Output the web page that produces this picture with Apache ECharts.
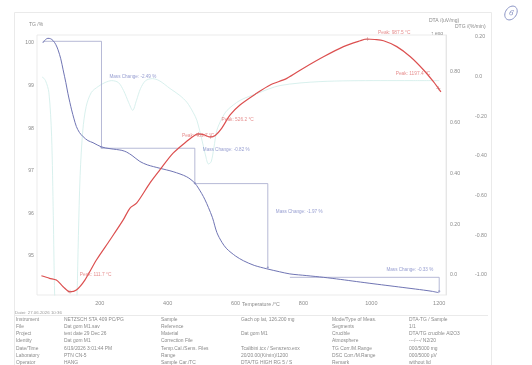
<!DOCTYPE html>
<html>
<head>
<meta charset="utf-8">
<script src="https://cdn.jsdelivr.net/npm/echarts@6/dist/echarts.min.js"></script>
<style>
  html, body { margin: 0; padding: 0; background: #ffffff; }
  #chart { width: 532px; height: 365px; }
</style>
</head>
<body>
<div id="chart"></div>
<script>
// ---- thermal analysis data (STA: TG / DTA / DTG) ----
const tgTemp = [32, 40, 47, 55, 62, 70, 77, 85, 92, 100, 106, 112, 117, 124, 131, 140, 151, 165, 180, 205, 230, 249, 265, 279, 295, 318, 340, 377, 416, 456, 480, 500, 510, 520, 532, 545, 560, 574, 600, 623, 655, 692, 730, 760, 810, 859, 910, 957, 1005, 1055, 1105, 1154, 1180, 1198];
const tgValue = [100.00, 100.08, 100.11, 100.10, 100.06, 99.97, 99.84, 99.63, 99.37, 99.07, 98.82, 98.60, 98.43, 98.22, 98.04, 97.90, 97.80, 97.71, 97.66, 97.56, 97.52, 97.50, 97.48, 97.44, 97.36, 97.22, 97.14, 97.06, 96.98, 96.86, 96.71, 96.47, 96.32, 96.14, 95.90, 95.55, 95.32, 95.17, 95.00, 94.89, 94.78, 94.70, 94.63, 94.58, 94.54, 94.50, 94.45, 94.40, 94.35, 94.30, 94.25, 94.20, 94.17, 94.14];

const dtaTemp = [28, 52, 72, 92, 111.7, 131, 156, 190, 230, 269, 289, 309, 348, 377, 416, 461, 480, 489.7, 505, 526.2, 540, 559, 584, 613, 662, 702, 751, 800, 859, 918, 967, 987.5, 1010, 1036, 1075, 1115, 1154, 1183, 1197.4, 1205];
const dtaValue = [-0.003, -0.013, -0.020, -0.046, -0.066, -0.059, -0.020, 0.059, 0.138, 0.217, 0.264, 0.284, 0.363, 0.414, 0.480, 0.532, 0.551, 0.556, 0.553, 0.544, 0.550, 0.578, 0.631, 0.670, 0.716, 0.749, 0.775, 0.815, 0.860, 0.900, 0.923, 0.930, 0.928, 0.923, 0.900, 0.860, 0.808, 0.762, 0.736, 0.722];

const dtgTemp = [30, 40, 50, 58, 63, 67, 72, 100, 128, 133, 137, 142, 150, 160, 175, 195, 215, 235, 255, 270, 285, 297, 308, 320, 335, 355, 375, 407, 436, 457, 475, 486, 501, 512, 520, 528, 536, 545, 560, 575, 613, 663, 731, 849, 1026, 1120, 1200];
const dtgValue = [0.00, -0.02, -0.08, -0.30, -0.70, -1.10, -1.30, -1.35, -1.30, -1.10, -0.80, -0.50, -0.27, -0.15, -0.08, -0.05, -0.03, -0.02, -0.03, -0.07, -0.13, -0.17, -0.12, -0.06, -0.02, -0.01, -0.02, -0.06, -0.095, -0.13, -0.18, -0.22, -0.32, -0.40, -0.44, -0.43, -0.36, -0.27, -0.21, -0.17, -0.12, -0.085, -0.045, -0.025, -0.02, -0.02, -0.02];

// DTA peak evaluations (°C)
const peakTemps = [111.7, 489.7, 526.2, 987.5, 1197.4];

// TG mass-change steps
const stepStartT = [32, 205, 480, 760];
const stepEndT = [205, 480, 695, 1200];
const stepTop = [100.04, 97.53, 96.70, 94.50];
const stepChange = [-2.49, -0.82, -1.97, -0.33];

// axis extents and tick labels
const tempRange = [15, 1220];
const tgRange = [94.085, 100.188];
const dtaRange = [-0.0788, 0.9458];
const dtgRange = [-1.101, 0.210];
const tempTicks = [200, 400, 600, 800, 1000, 1200];
const tgTicks = [95, 96, 97, 98, 99, 100];
const dtaTicks = [0, 0.2, 0.4, 0.6, 0.8];
const dtgTicks = [-1.0, -0.8, -0.6, -0.4, -0.2, 0, 0.2];

// instrument / measurement information table
const infoCol1 = ['Instrument', 'File', 'Project', 'Identity', 'Date/Time', 'Laboratory', 'Operator'];
const infoCol2 = ['NETZSCH STA 409 PC/PG', 'Dat gom M1.sav', 'test date 29 Dec 26', 'Dat gom M1', '6/19/2026 3:01:44 PM', 'PTN CN-5', 'HANG'];
const infoCol3 = ['Sample', 'Reference', 'Material', 'Correction File', 'Temp.Cal./Sens. Files', 'Range', 'Sample Car./TC'];
const infoCol4 = ['Gach op lat, 126.200 mg', '', 'Dat gom M1', '', 'Tcalibini.tcx / Senszero.exx', '20/20.00(K/min)/1200', 'DTA/TG HIGH RG 5 / S'];
const infoCol5 = ['Mode/Type of Meas.', 'Segments', 'Crucible', 'Atmosphere', 'TG Corr./M.Range', 'DSC Corr./M.Range', 'Remark'];
const infoCol6 = ['DTA-TG / Sample', '1/1', 'DTA/TG crucible Al2O3', '---/---/ N2/20', '000/5000 mg', '000/5000 µV', 'without lid'];
const fileStamp = 'Datei: 27.06.2026 10:36';

// ---- styling ----
const FONT = 'Liberation Sans';
const TICK_COLOR = '#8c8c8c';
const TG_COLOR = '#7075b4';
const DTA_COLOR = '#dc5050';
const DTG_COLOR = '#d4eeeb';
const STEP_TEXT = '#7d86c6';
const PEAK_TEXT = '#e07070';

const zip = (xs, ys) => xs.map((x, i) => [x, ys[i]]);
const fmt2 = v => (Math.abs(v) < 1e-9 ? '0.0' : v.toFixed(2));

const chart = echarts.init(document.getElementById('chart'), null, { renderer: 'canvas' });

// mass-change brackets: horizontal from step start, vertical down at step end
const stepSeries = stepStartT.map((t0, i) => {
  const bottom = +(stepTop[i] + stepChange[i]).toFixed(3);
  return {
    type: 'line', xAxisIndex: 0, yAxisIndex: 0, silent: true,
    data: [[t0, stepTop[i]], [stepEndT[i], stepTop[i]], [stepEndT[i], bottom]],
    showSymbol: false, symbol: 'none',
    lineStyle: { color: '#a3a7cc', width: 0.8 },
    z: 2
  };
});

// mass-change text labels, anchored at the middle of each vertical bracket
const stepLabelOffsets = [[8, -18, 'left'], [8, -15.5, 'left'], [8, -14, 'left'], [-6, -15, 'right']];
const stepLabelSeries = {
  type: 'scatter', xAxisIndex: 0, yAxisIndex: 0, silent: true,
  symbolSize: 0,
  data: stepStartT.map((t0, i) => {
    const o = stepLabelOffsets[i];
    return {
      value: [stepEndT[i], stepTop[i] + stepChange[i] / 2],
      label: {
        show: true, position: 'inside', align: o[2], verticalAlign: 'middle', offset: [o[0], o[1]],
        formatter: 'Mass Change: ' + stepChange[i].toFixed(2) + ' %',
        color: STEP_TEXT, fontSize: 4.6, fontFamily: FONT
      }
    };
  }),
  z: 5
};

// TG step markers on the curve at step ends
const stepMarkers = {
  type: 'scatter', xAxisIndex: 0, yAxisIndex: 0, silent: true,
  symbol: 'circle', symbolSize: 2.2,
  itemStyle: { color: '#8a8fc0' },
  data: stepEndT.map((t, i) => [t, +(stepTop[i] + stepChange[i]).toFixed(3)]),
  z: 4
};

// DTA peak markers and texts
const peakLabelOffsets = [[10, -17, 'left'], [0, 2, 'center'], [11, -17, 'left'], [11, -6, 'left'], [-8, -15, 'right']];
const peakSeries = {
  type: 'scatter', xAxisIndex: 0, yAxisIndex: 1, silent: true,
  symbol: 'path://M0,5L10,5L10,6L6,6L6,10L5,10L5,6L0,6Z M5,0L6,0L6,5L5,5Z',
  symbolSize: 4,
  itemStyle: { color: '#b85a5a' },
  data: peakTemps.map((t, i) => {
    const o = peakLabelOffsets[i];
    return {
      value: [t, dtaValue[dtaTemp.indexOf(t)]],
      label: {
        show: true, position: 'inside', align: o[2], verticalAlign: 'middle', offset: [o[0], o[1]],
        formatter: 'Peak: ' + t.toFixed(1) + ' °C',
        color: PEAK_TEXT, fontSize: 4.8, fontFamily: FONT
      }
    };
  }),
  z: 6
};

const tableText = [];
const rowY0 = 320.5, rowStep = 7.05;
const cols = [[16, infoCol1], [64, infoCol2], [161, infoCol3], [241, infoCol4], [332, infoCol5], [409, infoCol6]];
cols.forEach(([x, arr]) => {
  arr.forEach((s, r) => {
    if (!s) return;
    tableText.push({
      type: 'text', left: x, top: rowY0 + r * rowStep - 3, silent: true,
      style: { text: s, fill: '#8a8a8a', font: '4.9px ' + FONT }
    });
  });
});

const option = {
  backgroundColor: '#ffffff',
  animation: false,
  grid: {
    left: 37, right: 86, top: 35, bottom: 70,
    show: true, borderColor: '#e6e6e6', borderWidth: 0.8, backgroundColor: 'transparent'
  },
  xAxis: {
    type: 'value', min: tempRange[0], max: tempRange[1],
    axisLine: { show: false }, axisTick: { show: false }, splitLine: { show: false },
    axisLabel: {
      customValues: tempTicks, formatter: v => String(v),
      color: TICK_COLOR, fontSize: 5.5, fontFamily: FONT, margin: 5
    }
  },
  yAxis: [
    {
      type: 'value', position: 'left', min: tgRange[0], max: tgRange[1],
      axisLine: { show: false }, axisTick: { show: false }, splitLine: { show: false },
      axisLabel: { customValues: tgTicks, formatter: v => String(v), color: TICK_COLOR, fontSize: 5.2, fontFamily: FONT, margin: 3 }
    },
    {
      type: 'value', position: 'right', min: dtaRange[0], max: dtaRange[1],
      axisLine: { show: true, lineStyle: { color: '#e2e2e2', width: 0.8 } },
      axisTick: { show: false }, splitLine: { show: false },
      axisLabel: { customValues: dtaTicks, formatter: fmt2, color: TICK_COLOR, fontSize: 5.2, fontFamily: FONT, margin: 4 }
    },
    {
      type: 'value', position: 'right', offset: 25, min: dtgRange[0], max: dtgRange[1],
      axisLine: { show: false }, axisTick: { show: false }, splitLine: { show: false },
      axisLabel: { customValues: dtgTicks, formatter: fmt2, color: TICK_COLOR, fontSize: 5.2, fontFamily: FONT, margin: 4 }
    }
  ],
  series: [
    {
      name: 'DTG', type: 'line', xAxisIndex: 0, yAxisIndex: 2, silent: true,
      data: zip(dtgTemp, dtgValue), smooth: 0.3, showSymbol: false, symbol: 'none', clip: true,
      lineStyle: { color: DTG_COLOR, width: 0.9 }, z: 1
    },
    ...stepSeries,
    {
      name: 'TG', type: 'line', xAxisIndex: 0, yAxisIndex: 0, silent: true,
      data: zip(tgTemp, tgValue), smooth: 0.3, showSymbol: false, symbol: 'none', clip: true,
      lineStyle: { color: TG_COLOR, width: 1 }, z: 3
    },
    {
      name: 'DTA', type: 'line', xAxisIndex: 0, yAxisIndex: 1, silent: true,
      data: zip(dtaTemp, dtaValue), smooth: 0.3, showSymbol: false, symbol: 'none', clip: true,
      lineStyle: { color: DTA_COLOR, width: 1.2 }, z: 3
    },
    stepMarkers,
    stepLabelSeries,
    peakSeries
  ],
  graphic: [
    // outer frame of the report
    { type: 'rect', silent: true, shape: { x: 14.5, y: 12.5, width: 477, height: 360 },
      style: { fill: 'none', stroke: '#e4e4e4', lineWidth: 0.8 } },
    { type: 'line', silent: true, shape: { x1: 14.5, y1: 315.5, x2: 488, y2: 315.5 },
      style: { stroke: '#e4e4e4', lineWidth: 0.8 } },
    // axis titles
    { type: 'text', left: 29, top: 22, silent: true, style: { text: 'TG /%', fill: '#8a8a8a', font: '5px ' + FONT } },
    { type: 'text', left: 429, top: 18, silent: true, style: { text: 'DTA /(uV/mg)', fill: '#8a8a8a', font: '5px ' + FONT } },
    { type: 'text', left: 455, top: 24, silent: true, style: { text: 'DTG /(%/min)', fill: '#8a8a8a', font: '5px ' + FONT } },
    { type: 'text', left: 431, top: 31, silent: true, style: { text: '↑ exo', fill: '#8a8a8a', font: '5px ' + FONT } },
    { type: 'text', left: 242, top: 302.5, silent: true, style: { text: 'Temperature /°C', fill: '#8a8a8a', font: '5.2px ' + FONT } },
    { type: 'text', left: 15, top: 310.5, silent: true, style: { text: fileStamp, fill: '#9a9a9a', font: '4.4px ' + FONT } },
    // handwritten page mark
    { type: 'ellipse', silent: true, shape: { cx: 511, cy: 13, rx: 5.5, ry: 7.5 }, rotation: -0.6, originX: 511, originY: 13,
      style: { fill: 'none', stroke: '#8a93c4', lineWidth: 0.9 } },
    { type: 'text', left: 508, top: 8.5, silent: true, rotation: -0.3, style: { text: '6', fill: '#8a93c4', font: 'italic 8px ' + FONT } },
    ...tableText
  ]
};

chart.setOption(option);
</script>
</body>
</html>
